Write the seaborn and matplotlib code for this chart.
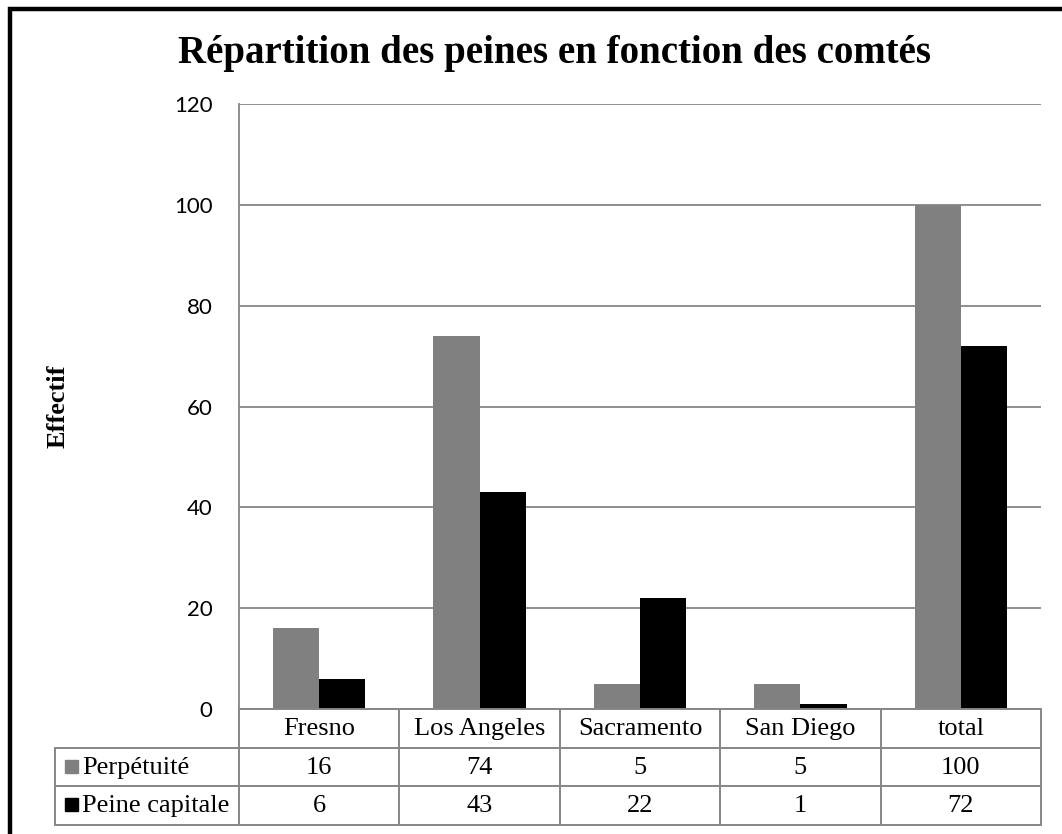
import pandas as pd
import matplotlib
matplotlib.use('Agg')
import matplotlib.pyplot as plt
import matplotlib.transforms as mtransforms
import seaborn as sns

# data
comtes = ['Fresno', 'Los Angeles', 'Sacramento', 'San Diego', 'total']
perpetuite = [16, 74, 5, 5, 100]
peine_capitale = [6, 43, 22, 1, 72]
series = ['Perpétuité', 'Peine capitale']
colors = ['#808080', '#000000']
yticks = [0, 20, 40, 60, 80, 100, 120]

df = pd.DataFrame({
    'comte': comtes * 2,
    'serie': [series[0]] * len(comtes) + [series[1]] * len(comtes),
    'effectif': perpetuite + peine_capitale,
})

sns.set_style('white')
plt.rcParams['text.color'] = 'black'
serif = ['Liberation Serif', 'DejaVu Serif']
sans = ['Lato', 'DejaVu Sans']
grid_col = '#868686'

W, H = 1062, 834
fig = plt.figure(figsize=(W / 100, H / 100), dpi=100)

# plot area (pixels)
L, R, T, B = 239, 1041, 104, 709
ax = fig.add_axes([L / W, 1 - B / H, (R - L) / W, (B - T) / H])

sns.barplot(data=df, x='comte', y='effectif', hue='serie', order=comtes,
            hue_order=series, palette=colors, width=0.575, saturation=1,
            errorbar=None, legend=False, ax=ax, linewidth=0, zorder=3)

ax.set_xlim(-0.5, len(comtes) - 0.5)
ax.set_ylim(0, 120)
ax.set_yticks(yticks)
ax.set_yticklabels([str(t) for t in yticks], family=sans, fontsize=16, color='black')
ax.set_xticks([])
ax.set_xlabel('')
ax.set_ylabel('')
ax.tick_params(axis='y', length=0, pad=19)
ax.yaxis.grid(True, color=grid_col, lw=1.3)
ax.set_axisbelow(True)
for s in ['top', 'right', 'bottom']:
    ax.spines[s].set_visible(False)
ax.spines['left'].set_color(grid_col)
ax.spines['left'].set_linewidth(1.3)

# overlay in pixel coords for the data table and frame
ov = fig.add_axes([0, 0, 1, 1], facecolor='none')
ov.set_xlim(0, W)
ov.set_ylim(H, 0)
ov.axis('off')
bl = mtransforms.blended_transform_factory(ax.transData, ov.transData)

row_h = 38.5
y0 = B
lw = 1.4
tsize = 19
n = len(comtes)
edges = [i - 0.5 for i in range(n + 1)]

# vertical lines in the category columns
for e in edges:
    ov.plot([e, e], [y0, y0 + 3 * row_h], color=grid_col, lw=lw, transform=bl)
# horizontal lines
ov.plot([-0.5, n - 0.5], [y0, y0], color=grid_col, lw=lw, transform=bl)
leg_left = 55
for k in range(1, 4):
    yy = y0 + k * row_h
    ov.plot([leg_left, L], [yy, yy], color=grid_col, lw=lw)
    ov.plot([-0.5, n - 0.5], [yy, yy], color=grid_col, lw=lw, transform=bl)
ov.plot([leg_left, leg_left], [y0 + row_h, y0 + 3 * row_h], color=grid_col, lw=lw)

# header row
for i, c in enumerate(comtes):
    ov.text(i, y0 + row_h / 2 + 1, c, transform=bl, ha='center', va='center',
            family=serif, fontsize=tsize)

# series rows
for r, (name, vals, col) in enumerate(zip(series, [perpetuite, peine_capitale], colors)):
    yc = y0 + (r + 1.5) * row_h
    ov.add_patch(plt.Rectangle((65, yc - 7), 12.5, 13, color=col))
    ov.text(82, yc + 1, name, ha='left', va='center', family=serif, fontsize=tsize)
    for i, v in enumerate(vals):
        ov.text(i, yc + 1, str(v), transform=bl, ha='center', va='center',
                family=serif, fontsize=tsize)

# outer frame (top and left visible)
ov.plot([9.5, 9.5, W], [H, 9, 9], color='black', lw=3.2, solid_joinstyle='miter')

# title and y label
ov.text(554, 63, 'Répartition des peines en fonction des comtés', ha='center',
        va='baseline', family=serif, fontsize=28, fontweight='bold')
ov.text(58, (T + B) / 2, 'Effectif', ha='center', va='center', rotation=90,
        family=serif, fontsize=19, fontweight='bold')

fig.savefig('out.png', dpi=100)
